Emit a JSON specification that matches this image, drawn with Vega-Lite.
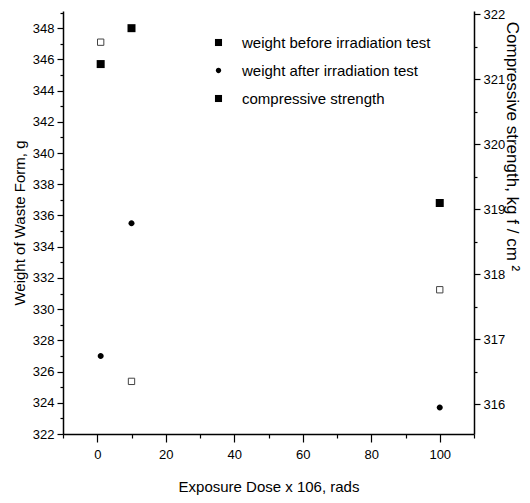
{
  "$schema": "https://vega.github.io/schema/vega-lite/v6.json",
  "width": 411,
  "height": 423,
  "padding": {"left": 12, "top": 6, "right": 5, "bottom": 5},
  "background": "white",
  "config": {
    "font": "Liberation Sans, Arial, sans-serif",
    "view": {"stroke": null},
    "axis": {
      "grid": false,
      "domainColor": "black",
      "domainWidth": 1.5,
      "tickColor": "black",
      "tickWidth": 1.2,
      "labelColor": "black",
      "titleColor": "black",
      "labelFontSize": 13,
      "titleFontSize": 15,
      "titleFontWeight": "normal",
      "labelPadding": 3
    }
  },
  "datasets": {
    "weights": [
      {"dose": 1, "weight": 345.7, "series": "weight before irradiation test"},
      {"dose": 10, "weight": 348.0, "series": "weight before irradiation test"},
      {"dose": 100, "weight": 336.8, "series": "weight before irradiation test"},
      {"dose": 1, "weight": 327.0, "series": "weight after irradiation test"},
      {"dose": 10, "weight": 335.5, "series": "weight after irradiation test"},
      {"dose": 100, "weight": 323.7, "series": "weight after irradiation test"}
    ],
    "strength": [
      {"dose": 1, "strength": 321.57},
      {"dose": 10, "strength": 316.35},
      {"dose": 100, "strength": 317.76}
    ]
  },
  "encoding": {
    "x": {
      "field": "dose", "type": "quantitative",
      "scale": {"domain": [-10, 110], "nice": false},
      "axis": {
        "title": "Exposure Dose x 106, rads",
        "values": [-10, 0, 10, 20, 30, 40, 50, 60, 70, 80, 90, 100, 110],
        "labelExpr": "datum.value % 20 === 0 && datum.value >= 0 && datum.value <= 100 ? datum.label : ''",
        "labelOverlap": false,
        "tickSize": {"condition": {"test": "datum.value % 20 === 0", "value": 8}, "value": 4},
        "labelPadding": 6,
        "titlePadding": 18
      }
    }
  },
  "layer": [
    {
      "data": {"name": "weights"},
      "mark": {"type": "point", "filled": true, "color": "black", "opacity": 1, "size": 64},
      "encoding": {
        "y": {
          "field": "weight", "type": "quantitative",
          "scale": {"domain": [322, 349.1], "nice": false, "zero": false},
          "axis": {
            "title": "Weight of Waste Form, g",
            "values": [322, 323, 324, 325, 326, 327, 328, 329, 330, 331, 332, 333, 334, 335, 336, 337, 338, 339, 340, 341, 342, 343, 344, 345, 346, 347, 348, 349],
            "labelExpr": "datum.value % 2 === 0 && datum.value <= 348 ? datum.label : ''",
            "labelOverlap": false,
            "tickSize": {"condition": {"test": "datum.value % 2 === 0", "value": 6}, "value": 3},
            "titlePadding": 5
          }
        },
        "shape": {
          "field": "series", "type": "nominal",
          "scale": {
            "domain": ["weight before irradiation test", "weight after irradiation test", "compressive strength"],
            "range": ["square", "M0,-0.75A0.75,0.75 0 1,1 0,0.75A0.75,0.75 0 1,1 0,-0.75Z", "square"]
          },
          "legend": {
            "title": null,
            "orient": "none",
            "legendX": 148,
            "legendY": 24,
            "labelFontSize": 15,
            "labelLimit": 400,
            "labelColor": "black",
            "symbolFillColor": "black",
            "symbolStrokeColor": "black",
            "symbolSize": 50,
            "rowPadding": 12,
            "labelOffset": 16
          }
        }
      }
    },
    {
      "data": {"name": "strength"},
      "mark": {"type": "point", "shape": "square", "filled": false, "fill": "white", "fillOpacity": 1, "stroke": "#444", "strokeWidth": 1, "size": 40, "opacity": 1},
      "encoding": {
        "y": {
          "field": "strength", "type": "quantitative",
          "scale": {"domain": [315.54, 322.05], "nice": false, "zero": false},
          "axis": {
            "orient": "right",
            "title": "Compressive strength, kg     f / cm ²",
            "titleFontSize": 17,
            "titleAngle": 90,
            "titleY": 135,
            "format": ".0f",
            "values": [315.5, 316, 316.5, 317, 317.5, 318, 318.5, 319, 319.5, 320, 320.5, 321, 321.5, 322],
            "labelExpr": "datum.value % 1 === 0 ? datum.label : ''",
            "labelOverlap": false,
            "tickSize": {"condition": {"test": "datum.value % 1 === 0", "value": 6}, "value": 3},
            "titlePadding": -2
          }
        }
      }
    }
  ],
  "resolve": {"scale": {"y": "independent"}}
}
